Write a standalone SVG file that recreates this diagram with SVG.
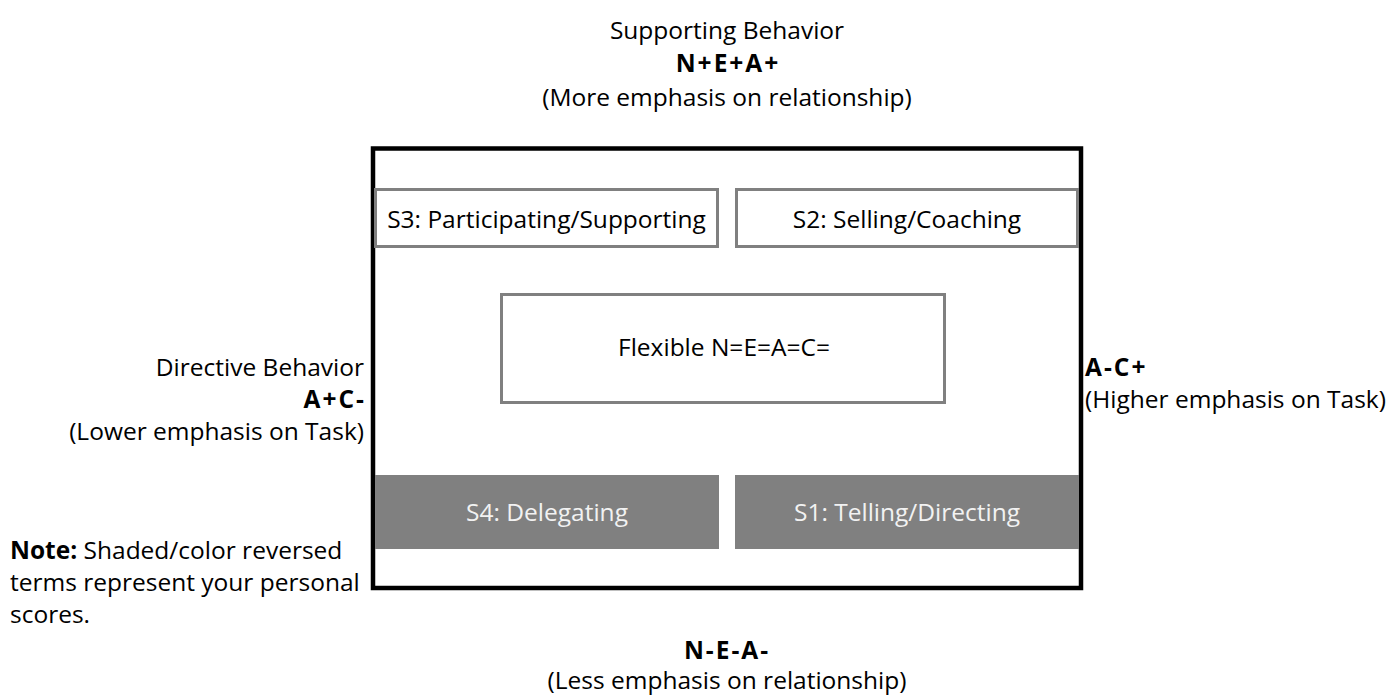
<svg xmlns="http://www.w3.org/2000/svg" width="1395" height="696" viewBox="0 0 1395 696">
  <style>
    text { font-family: "Open Sans", "Noto Sans", "Liberation Sans", sans-serif; font-size: 24.5px; fill: #000; }
    .b { font-weight: bold; letter-spacing: 2px; }
    .nb { font-weight: bold; }
    .mid { text-anchor: middle; }
    .end { text-anchor: end; }
    .box { fill: #fff; stroke: #808080; stroke-width: 3; }
    .shaded { fill: #808080; stroke: none; }
    .rev { fill: #f2f2f2; }
  </style>
  <rect width="1395" height="696" fill="#fff"/>

  <!-- axis labels -->
  <g id="top-label">
    <text class="mid" x="727" y="39">Supporting Behavior</text>
    <text class="mid b" x="728" y="72">N+E+A+</text>
    <text class="mid" x="727" y="106">(More emphasis on relationship)</text>
  </g>
  <g id="left-label">
    <text class="end" x="364" y="376">Directive Behavior</text>
    <text class="end b" x="366" y="408">A+C-</text>
    <text class="end" x="364" y="440">(Lower emphasis on Task)</text>
  </g>
  <g id="right-label">
    <text x="1085" y="376" class="b">A-C+</text>
    <text x="1085" y="408">(Higher emphasis on Task)</text>
  </g>
  <g id="bottom-label">
    <text class="mid b" x="727" y="659">N-E-A-</text>
    <text class="mid" x="727" y="689">(Less emphasis on relationship)</text>
  </g>

  <!-- frame -->
  <g id="frame">
    <rect x="373" y="148.5" width="708" height="439.5" fill="none" stroke="#000" stroke-width="4.5"/>
  </g>

  <g id="s3">
    <rect class="box" x="375.5" y="189.5" width="342" height="57"/>
    <text class="mid" x="546.5" y="228">S3: Participating/Supporting</text>
  </g>
  <g id="s2">
    <rect class="box" x="736.5" y="189.5" width="341" height="57"/>
    <text class="mid" x="907" y="228">S2: Selling/Coaching</text>
  </g>
  <g id="flexible">
    <rect class="box" x="501.5" y="294.5" width="443" height="108"/>
    <text class="mid" x="724" y="356">Flexible N=E=A=C=</text>
  </g>
  <g id="s4">
    <rect class="shaded" x="375" y="475" width="344" height="74"/>
    <text class="mid rev" x="547" y="521">S4: Delegating</text>
  </g>
  <g id="s1">
    <rect class="shaded" x="735" y="475" width="344" height="74"/>
    <text class="mid rev" x="907" y="521">S1: Telling/Directing</text>
  </g>

  <g id="note">
    <text x="10" y="559"><tspan class="nb">Note:</tspan> Shaded/color reversed</text>
    <text x="10" y="591">terms represent your personal</text>
    <text x="10" y="623">scores.</text>
  </g>
</svg>
